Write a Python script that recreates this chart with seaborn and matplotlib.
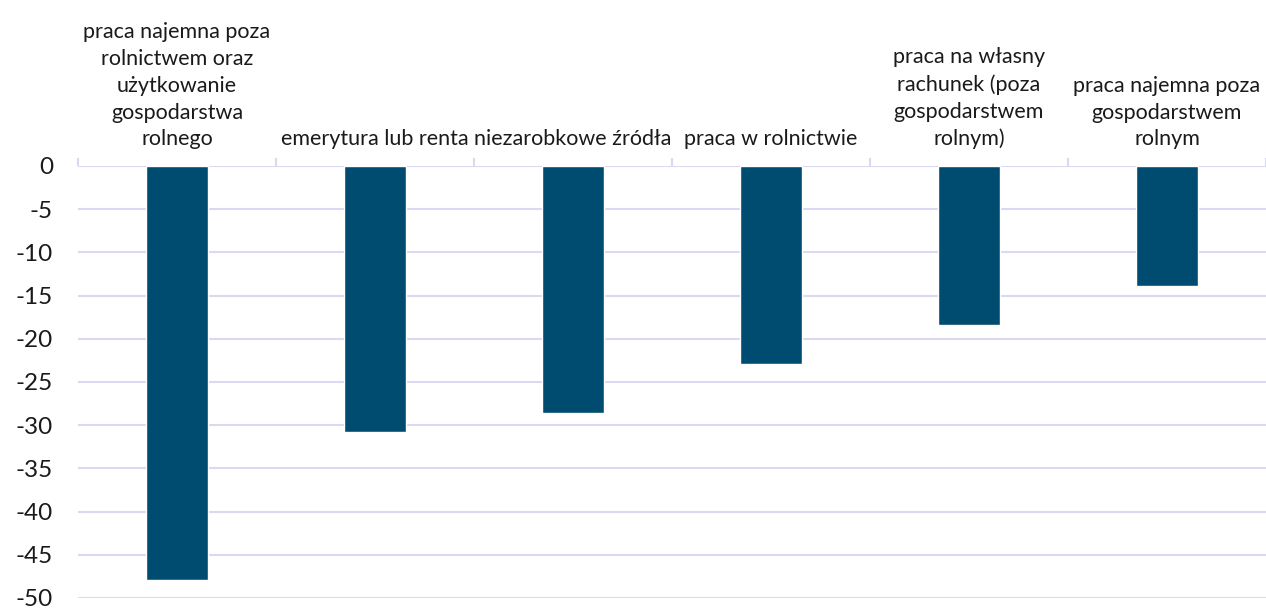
import matplotlib
matplotlib.use("Agg")
import matplotlib.pyplot as plt
import seaborn as sns
import pandas as pd
from matplotlib.ticker import FixedLocator

categories = [
    "praca najemna poza\nrolnictwem oraz\nużytkowanie\ngospodarstwa\nrolnego",
    "emerytura lub renta",
    "niezarobkowe źródła",
    "praca w rolnictwie",
    "praca na własny\nrachunek (poza\ngospodarstwem\nrolnym)",
    "praca najemna poza\ngospodarstwem\nrolnym",
]
values = [-47.9, -30.8, -28.6, -22.9, -18.4, -13.9]
yticks = [0, -5, -10, -15, -20, -25, -30, -35, -40, -45, -50]

sns.set_theme(style="white")
plt.rcParams["font.family"] = ["Lato", "DejaVu Sans"]
plt.rcParams["axes.unicode_minus"] = False

df = pd.DataFrame({"cat": categories, "val": values})

fig = plt.figure(figsize=(12.66, 6.08), dpi=100)
ax = fig.add_axes([78 / 1266, 1 - 598 / 608, 1 - 78 / 1266, (598 - 166) / 608])

sns.barplot(data=df, x="cat", y="val", color="#004C71", width=0.31,
            saturation=1, ax=ax, zorder=3)

ax.set_ylim(-50, 0)
ax.set_xlim(-0.5, len(categories) - 0.5)
ax.set_yticks(yticks)
ax.set_yticklabels([str(v) for v in yticks], fontsize=17.5, color="#1a1a1a")
ax.yaxis.grid(True, color="#D9D9F2", linewidth=1.5, zorder=0)
ax.xaxis.grid(False)
for s in ax.spines.values():
    s.set_visible(False)
ax.tick_params(axis="y", length=0, pad=18)

ax.xaxis.tick_top()
ax.set_xticks(range(len(categories)))
ax.set_xticklabels(categories, fontsize=15.5, color="#1a1a1a", linespacing=1.42)
ax.xaxis.set_minor_locator(FixedLocator([i - 0.5 for i in range(len(categories) + 1)]))
ax.tick_params(axis="x", which="major", length=0, pad=12)
ax.tick_params(axis="x", which="minor", length=6, width=1.5, color="#D9D9F2", top=True, bottom=False)
ax.set_xlabel("")
ax.set_ylabel("")

fig.savefig("out.png", dpi=100)
